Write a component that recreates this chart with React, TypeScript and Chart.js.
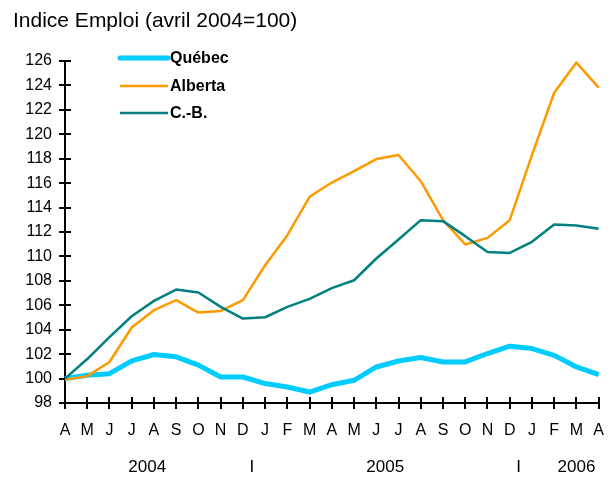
import React, { useEffect, useRef } from "react";
import { Chart, registerables } from "chart.js";

Chart.register(...registerables);

const months = ["A", "M", "J", "J", "A", "S", "O", "N", "D", "J", "F", "M", "A", "M", "J", "J", "A", "S", "O", "N", "D", "J", "F", "M", "A"];

const quebec = [100.0, 100.27, 100.4, 101.45, 101.97, 101.78, 101.1, 100.13, 100.13, 99.59, 99.31, 98.9, 99.5, 99.86, 100.95, 101.44, 101.72, 101.36, 101.36, 102.05, 102.65, 102.46, 101.9, 100.95, 100.33];
const alberta = [99.9, 100.2, 101.36, 104.18, 105.6, 106.42, 105.4, 105.54, 106.42, 109.28, 111.74, 114.88, 116.05, 116.98, 117.97, 118.3, 116.16, 112.97, 110.98, 111.52, 112.97, 118.3, 123.4, 125.87, 123.82];
const cb = [100.0, 101.6, 103.4, 105.1, 106.36, 107.29, 107.05, 105.87, 104.91, 105.02, 105.87, 106.52, 107.4, 108.05, 109.83, 111.39, 112.97, 112.89, 111.66, 110.37, 110.29, 111.2, 112.62, 112.54, 112.26];

const yearLabels = ["2004", "I", "2005", "I", "2006"];
const yearPositions = [3.7, 8.4, 14.4, 20.4, 23.0];

const seriesNames = ["Québec", "Alberta", "C.-B."];
const seriesColors = ["#00CCFF", "#FF9900", "#008080"];
const seriesWidths = [5, 2.5, 2.5];

const titleText = "Indice Emploi (avril 2004=100)";
const FONT = "'Liberation Sans', Arial, sans-serif";

const overlayPlugin = {
  id: "overlay",
  beforeDatasetsDraw(chart: any) {
    const ctx = chart.ctx;
    const x = chart.scales.x;
    const y = chart.scales.y;
    ctx.save();
    ctx.strokeStyle = "#000";
    ctx.lineWidth = 2;
    ctx.beginPath();
    y.ticks.forEach((_t: any, i: number) => {
      const py = Math.round(y.getPixelForTick(i));
      ctx.moveTo(x.left, py);
      ctx.lineTo(x.left + 6, py);
    });
    x.ticks.forEach((_t: any, i: number) => {
      const px = Math.round(x.getPixelForTick(i));
      ctx.moveTo(px, y.bottom);
      ctx.lineTo(px, y.bottom - 6);
    });
    ctx.stroke();
    ctx.restore();
  },
  afterDraw(chart: any) {
    const ctx = chart.ctx;
    ctx.save();
    ctx.fillStyle = "#000";
    ctx.font = `21px ${FONT}`;
    ctx.textBaseline = "alphabetic";
    ctx.textAlign = "left";
    ctx.fillText(titleText, 13, 27);
    const ly = [58, 86, 113];
    chart.data.datasets.forEach((ds: any, i: number) => {
      ctx.strokeStyle = ds.borderColor;
      ctx.lineWidth = ds.borderWidth;
      ctx.lineCap = i === 0 ? "round" : "butt";
      ctx.beginPath();
      ctx.moveTo(120, ly[i]);
      ctx.lineTo(168, ly[i]);
      ctx.stroke();
      ctx.font = `bold 16px ${FONT}`;
      ctx.textBaseline = "middle";
      ctx.fillStyle = "#000";
      ctx.fillText(ds.label, 170, ly[i] + 1);
    });
    ctx.restore();
  },
};

export default function App() {
  const ref = useRef<HTMLCanvasElement | null>(null);
  useEffect(() => {
    if (!ref.current) return;
    const data = [quebec, alberta, cb];
    const chart = new Chart(ref.current, {
      type: "line",
      data: {
        labels: months,
        datasets: data.map((d, i) => ({
          label: seriesNames[i],
          data: d,
          borderColor: seriesColors[i],
          backgroundColor: seriesColors[i],
          borderWidth: seriesWidths[i],
          pointRadius: 0,
          tension: 0,
          borderJoinStyle: "round" as const,
          xAxisID: "x",
          order: 2 - i,
        })),
      },
      options: {
        animation: false,
        responsive: false,
        maintainAspectRatio: false,
        layout: { padding: { left: 0, right: 16, top: 61, bottom: 0 } },
        plugins: {
          legend: { display: false },
          title: { display: false },
          tooltip: { enabled: false },
        },
        scales: {
          x: {
            type: "category",
            position: "bottom",
            weight: 0,
            offset: false,
            afterFit: (s: any) => { s.height = 45; },
            grid: { display: true, drawOnChartArea: false, drawTicks: true, tickLength: 6, color: "#000", lineWidth: 2 },
            border: { display: true, color: "#000", width: 2 },
            ticks: { autoSkip: false, maxRotation: 0, padding: 12, color: "#000", font: { family: FONT, size: 16 } },
          },
          x2: {
            type: "linear",
            position: "bottom",
            weight: 1,
            min: 0,
            max: 24,
            afterFit: (s: any) => { s.height = 30; },
            afterBuildTicks: (s: any) => { s.ticks = yearPositions.map((v) => ({ value: v })); },
            grid: { display: false, drawTicks: false },
            border: { display: false },
            ticks: {
              autoSkip: false,
              maxRotation: 0,
              padding: 9,
              color: "#000",
              font: { family: FONT, size: 17 },
              callback: (_v: any, i: number) => yearLabels[i],
            },
          },
          y: {
            type: "linear",
            min: 98,
            max: 126,
            afterFit: (s: any) => { s.width = 65; },
            grid: { display: true, drawOnChartArea: false, drawTicks: true, tickLength: 6, color: "#000", lineWidth: 2 },
            border: { display: true, color: "#000", width: 2 },
            ticks: { stepSize: 2, padding: 7, color: "#000", font: { family: FONT, size: 16 } },
          },
        },
      },
      plugins: [overlayPlugin],
    } as any);
    return () => chart.destroy();
  }, []);
  return (
    <div style={{ position: "fixed", left: 0, top: 0, width: 616, height: 478, background: "#fff" }}>
      <canvas ref={ref} width={616} height={478} style={{ display: "block" }} />
    </div>
  );
}
